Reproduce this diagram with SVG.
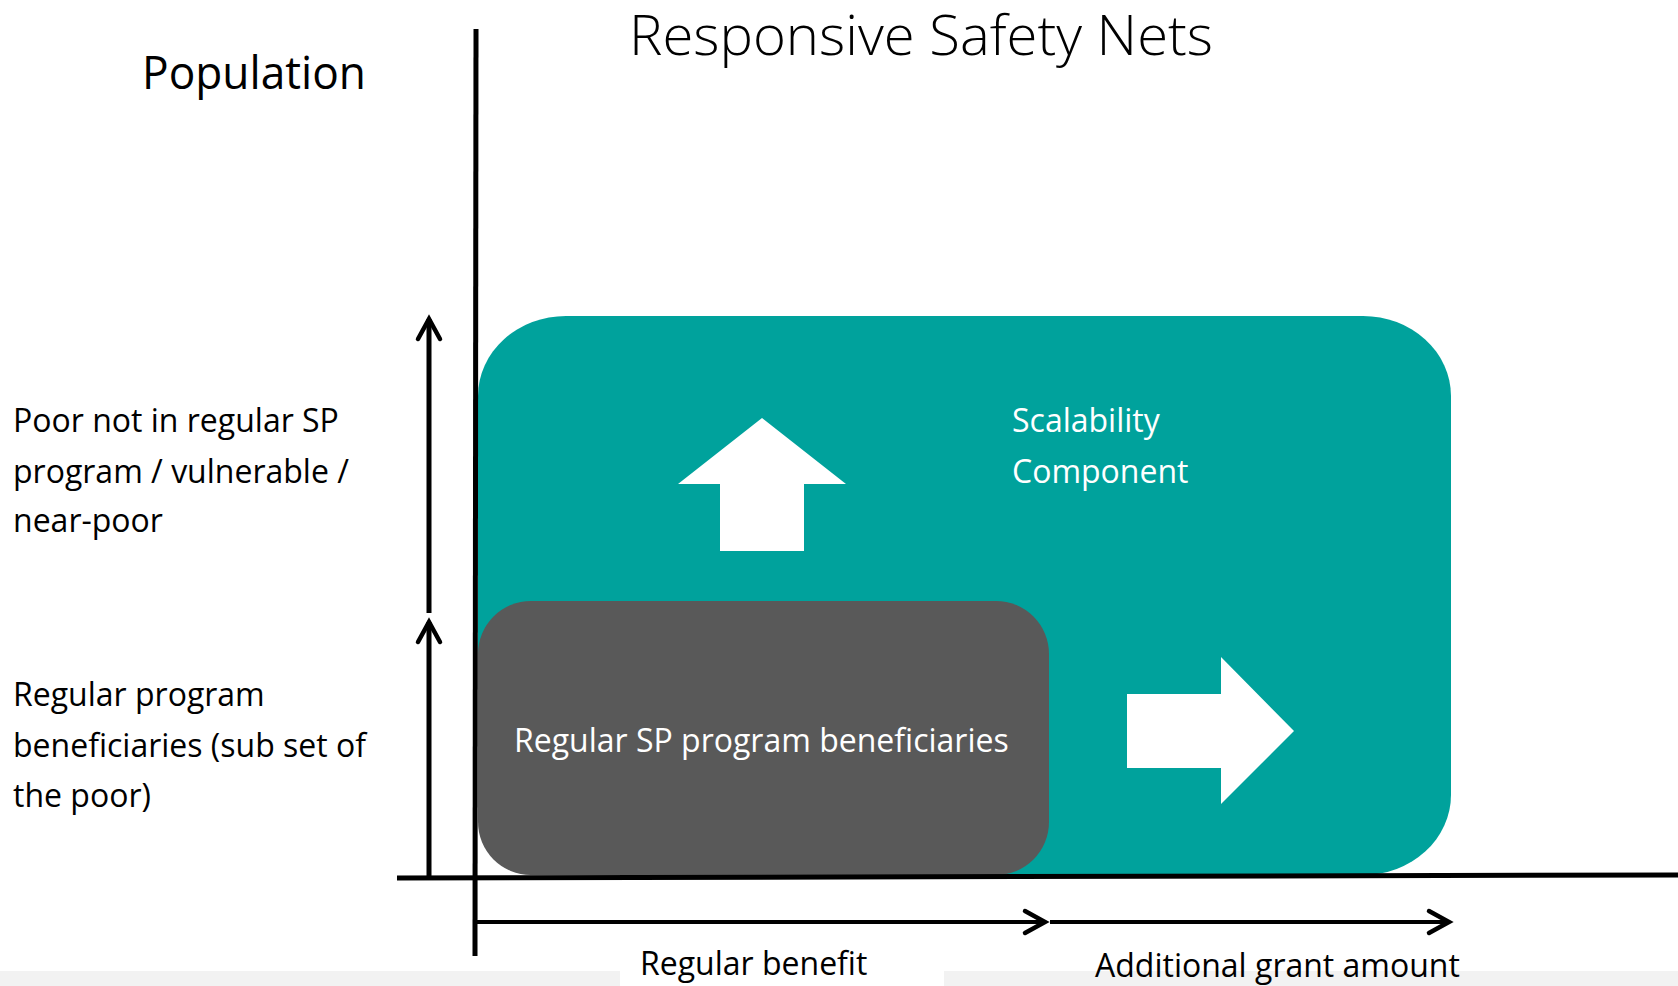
<svg xmlns="http://www.w3.org/2000/svg" width="1678" height="986" viewBox="0 0 1678 986">
<style>
.lbl{font-family:"Open Sans","Liberation Sans",sans-serif;font-size:32px;fill:#000}
.wlbl{font-family:"Open Sans","Liberation Sans",sans-serif;font-size:32px;fill:#fff}
.ttl{font-family:"Open Sans","Liberation Sans",sans-serif;font-weight:300;fill:#000}
.pop{font-family:"Open Sans","Liberation Sans",sans-serif;font-weight:400;fill:#000}
.ax{stroke:#000;stroke-width:5;fill:none}
.arr{stroke:#000;fill:none}
</style>
<defs>
<marker id="chev" markerUnits="userSpaceOnUse" markerWidth="30" markerHeight="30" viewBox="-25 -15 30 30" refX="0" refY="0" orient="auto">
<path d="M-20,-11 L0,0 L-20,11" fill="none" stroke="#000" stroke-width="4.5" stroke-linecap="round" stroke-linejoin="miter"/>
</marker>
</defs>
<rect x="0" y="0" width="1678" height="986" fill="#fff"/>
<rect x="0" y="971" width="620" height="15" fill="#f2f2f2"/>
<rect x="944" y="971" width="734" height="15" fill="#f2f2f2"/>
<g id="title">
<text class="ttl" x="629" y="55" font-size="56" textLength="584" lengthAdjust="spacingAndGlyphs">Responsive Safety Nets</text>
</g>
<g id="population">
<text class="pop" x="142" y="89" font-size="46" textLength="224" lengthAdjust="spacingAndGlyphs">Population</text>
</g>
<g id="scalability">
<rect x="478" y="316" width="973" height="559" rx="88" ry="80" fill="#00A29C"/>
<polygon points="762,418 846,484 804,484 804,551 720,551 720,484 678,484" fill="#fff"/>
<polygon points="1127,694 1221,694 1221,657 1294,731 1221,804 1221,768 1127,768" fill="#fff"/>
<text class="wlbl" x="1012" y="432">Scalability</text>
<text class="wlbl" x="1012" y="483">Component</text>
</g>
<g id="regular">
<rect x="478" y="601" width="571" height="274" rx="53" ry="53" fill="#595959"/>
<text class="wlbl" x="514" y="752">Regular SP program beneficiaries</text>
</g>
<g id="label-poor">
<text class="lbl" x="13" y="432">Poor not in regular SP</text>
<text class="lbl" x="13" y="483">program / vulnerable /</text>
<text class="lbl" x="13" y="532">near-poor</text>
</g>
<g id="label-regular">
<text class="lbl" x="13" y="706">Regular program</text>
<text class="lbl" x="13" y="757">beneficiaries (sub set of</text>
<text class="lbl" x="13" y="807">the poor)</text>
</g>
<g id="label-benefit">
<text class="lbl" x="640" y="975">Regular benefit</text>
</g>
<g id="label-grant">
<text class="lbl" x="1095" y="977">Additional grant amount</text>
</g>
<g id="connectors">
<line class="ax" x1="476" y1="29" x2="475" y2="956"/>
<line class="ax" x1="397" y1="878" x2="1678" y2="875" stroke-width="6"/>
<line class="arr" x1="429" y1="613" x2="429" y2="319" stroke-width="5" marker-end="url(#chev)"/>
<line class="arr" x1="429" y1="877" x2="429" y2="622" stroke-width="5" marker-end="url(#chev)"/>
<line class="arr" x1="477" y1="922" x2="1045" y2="922" stroke-width="4" marker-end="url(#chev)"/>
<line class="arr" x1="1050" y1="922" x2="1449" y2="922" stroke-width="4" marker-end="url(#chev)"/>
</g>
</svg>
